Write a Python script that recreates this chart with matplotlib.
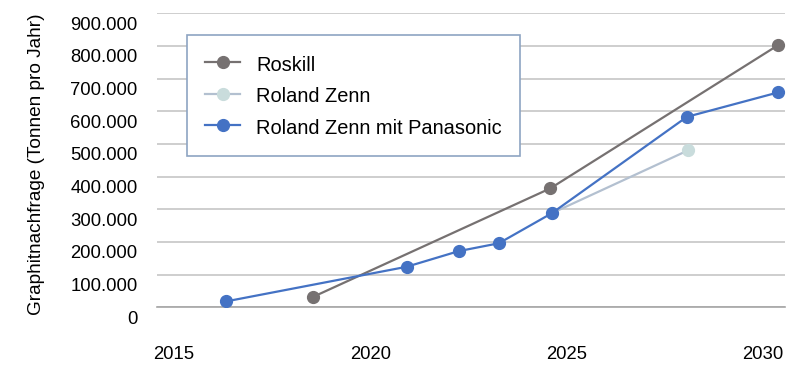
import matplotlib
matplotlib.use("Agg")
import matplotlib.pyplot as plt
from matplotlib.transforms import ScaledTranslation

plt.rcParams['font.family'] = ['Liberation Sans', 'DejaVu Sans']

# Graphite demand forecasts (tonnes per year)
roskill_years = [2018.54, 2024.58, 2030.39]
roskill_vals = [32000, 364000, 803000]

zenn_years = [2024.62, 2028.10]
zenn_vals = [288000, 481000]

zenn_pana_years = [2016.32, 2020.92, 2022.25, 2023.27, 2024.62, 2028.06, 2030.39]
zenn_pana_vals = [18000, 124000, 172000, 196000, 288000, 583000, 658000]

x_ticks = [2015, 2020, 2025, 2030]
y_ticks = [0, 100000, 200000, 300000, 400000, 500000, 600000, 700000, 800000, 900000]
y_ticklabels = ['0', '100.000', '200.000', '300.000', '400.000', '500.000',
                '600.000', '700.000', '800.000', '900.000']

DPI = 100
fig = plt.figure(figsize=(8.12, 3.65), dpi=DPI)
ax = fig.add_axes([157 / 812, 1 - 307.3 / 365, 628 / 812, 294 / 365])

ax.plot(roskill_years, roskill_vals, color='#767171', lw=1.6, marker='o',
        ms=8.5, mec='#767171', mfc='#767171', label='Roskill', zorder=3)
ax.plot(zenn_years, zenn_vals, color='#b3c0d0', lw=1.6, marker='o',
        ms=8.5, mec='#c9dcdc', mfc='#c9dcdc', label='Roland Zenn', zorder=3)
ax.plot(zenn_pana_years, zenn_pana_vals, color='#4472c4', lw=1.6, marker='o',
        ms=8.5, mec='#4472c4', mfc='#4472c4', label='Roland Zenn mit Panasonic', zorder=4)

ax.set_xlim(2014.563, 2030.559)
ax.set_ylim(0, 900000)
ax.set_xticks(x_ticks, [str(t) for t in x_ticks])
ax.set_yticks(y_ticks, y_ticklabels)

ax.grid(axis='y', color='#c6c6c6', lw=1.2)
ax.set_axisbelow(True)
for side in ['top', 'right', 'left']:
    ax.spines[side].set_visible(False)
ax.spines['bottom'].set_color('#a6a6a6')
ax.spines['bottom'].set_linewidth(1.2)

ax.tick_params(axis='both', length=0, labelsize=13.3, colors='#000000')
ax.tick_params(axis='y', pad=14)
ax.tick_params(axis='x', pad=28)

# y tick labels sit a little below their gridlines
shift = ScaledTranslation(0, -10 / DPI, fig.dpi_scale_trans)
for tick in ax.yaxis.get_major_ticks():
    tick.label1.set_transform(tick.label1.get_transform() + shift)

ax.set_ylabel('Graphitnachfrage (Tonnen pro Jahr)', fontsize=13.7)
ax.yaxis.set_label_coords(-0.178, 0.487)

leg = ax.legend(loc='upper left', bbox_to_anchor=(0.048, 0.926), borderaxespad=0,
                fontsize=14.4, frameon=True, fancybox=False, framealpha=1,
                edgecolor='#8ea4c2', borderpad=0.9, labelspacing=0.5,
                handlelength=1.75, handleheight=1.3, handletextpad=0.8)
leg.get_frame().set_linewidth(1.2)

fig.savefig('out.png', dpi=DPI)
